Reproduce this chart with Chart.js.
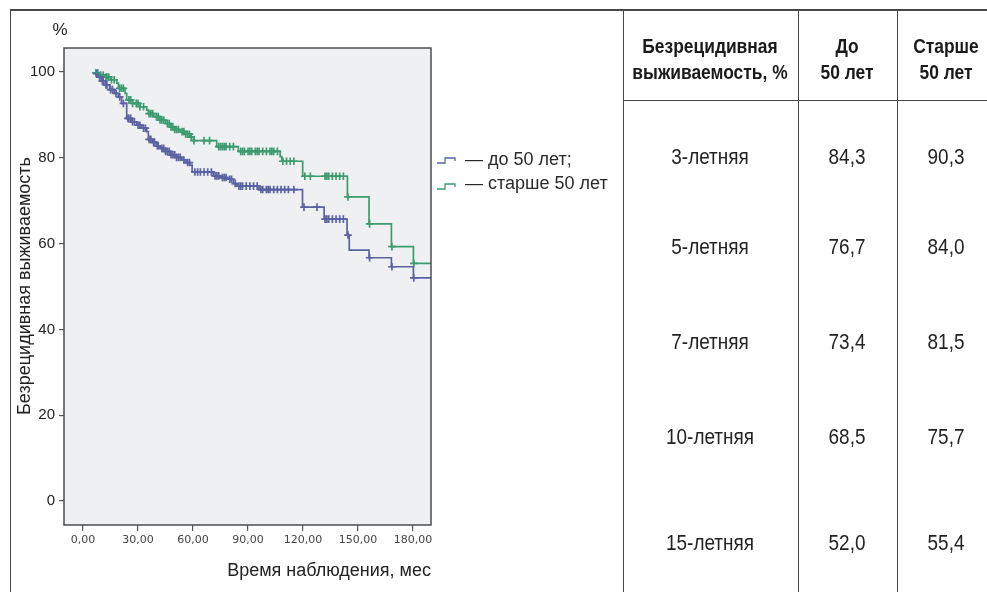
<!DOCTYPE html>
<html><head><meta charset="utf-8">
<script src="https://cdn.jsdelivr.net/npm/chart.js@4/dist/chart.umd.min.js"></script>
<style>
html,body{margin:0;padding:0;background:#fff;}
body{width:987px;height:592px;position:relative;overflow:hidden;font-family:"Liberation Sans",Arial,sans-serif;color:#222;}
#c{position:absolute;left:0;top:0;}
.ln{position:absolute;background:#474747;}
.t{position:absolute;white-space:nowrap;transform:translate(-50%,-50%);line-height:1;}
.nar{font-family:"Liberation Sans",Arial,sans-serif;color:#222;}
.hd{font-weight:bold;font-size:20px;text-align:center;line-height:26px;color:#1a1a1a;transform:translate(-50%,-50%) scaleX(0.87);}
.bd{font-size:22px;transform:translate(-50%,-50%) scaleX(0.86);}
.lg{position:absolute;font-size:18px;color:#2a2a2a;white-space:nowrap;line-height:1;}
</style></head>
<body>
<canvas id="c" width="987" height="592"></canvas>

<!-- frame lines -->
<div class="ln" style="left:10px;top:9px;width:977px;height:1.5px"></div>
<div class="ln" style="left:9.5px;top:9px;width:1.5px;height:583px"></div>
<div class="ln" style="left:622.5px;top:9px;width:1.5px;height:583px"></div>
<div class="ln" style="left:797.5px;top:9px;width:1.5px;height:583px"></div>
<div class="ln" style="left:896.5px;top:9px;width:1.5px;height:583px"></div>
<div class="ln" style="left:623px;top:99.5px;width:364px;height:1.5px"></div>

<!-- chart texts -->
<div class="t" style="left:60px;top:29px;font-size:17px;">%</div>
<div class="t" style="left:24px;top:286px;font-size:18px;transform:translate(-50%,-50%) rotate(-90deg);">Безрецидивная выживаемость</div>
<div class="t" style="left:431px;top:570px;font-size:18px;transform:translate(-100%,-50%);">Время наблюдения, мес</div>

<!-- legend -->
<svg style="position:absolute;left:435px;top:152px" width="28" height="40">
  <path d="M2 11 H10 V6 H20 V9" fill="none" stroke="#5a62a2" stroke-width="1.3"/>
  <path d="M2 37 H10 V32 H20 V35" fill="none" stroke="#3d9b70" stroke-width="1.3"/>
</svg>
<div class="lg" style="left:465px;top:150px;">— до 50 лет;</div>
<div class="lg" style="left:465px;top:174px;">— старше 50 лет</div>

<!-- table -->
<div class="t nar hd" style="left:710px;top:59px;">Безрецидивная<br>выживаемость, %</div>
<div class="t nar hd" style="left:847px;top:59px;">До<br>50 лет</div>
<div class="t nar hd" style="left:946px;top:59px;">Старше<br>50 лет</div>
<div id="tbody"></div>

<script>
// ---- data ----
const xTickValues = [0, 30, 60, 90, 120, 150, 180];
const yTickValues = [0, 20, 40, 60, 80, 100];

// Kaplan–Meier step points: time (months) and survival (%) — "до 50 лет"
const youngTimes = [6.2, 8, 10, 12, 14.5, 17, 19.3, 21, 23.8, 26.5, 29.3, 32, 34.7, 35.6, 38, 40, 42, 44.5, 47.5, 50.5, 53.8, 56, 58.4, 59.5, 71, 75, 78.4, 82, 84, 96, 119.7, 131.5, 144, 145.2, 156, 168.2, 180.2, 189.8];
const youngSurv  = [99.6, 98.8, 97.9, 97.0, 95.9, 95.0, 94.2, 92.7, 89.2, 88.4, 87.6, 86.9, 86.1, 84.3, 83.6, 82.8, 82.2, 81.5, 80.7, 80.1, 79.5, 78.9, 78.3, 76.7, 75.8, 75.4, 75.0, 74.0, 73.4, 72.6, 68.5, 65.7, 62.0, 58.5, 56.7, 54.6, 52.0, 52.0];
// "старше 50 лет"
const olderTimes = [6.2, 9, 12, 15, 18.4, 19.3, 22.9, 23.8, 27, 31, 34.7, 35.6, 38.5, 42, 45, 47.5, 50, 52.9, 55.5, 58.4, 60.2, 72.9, 84.7, 107.5, 108.4, 119.8, 144.2, 156, 168.2, 180.2, 189.8];
const olderSurv  = [99.8, 99.3, 98.8, 98.2, 97.4, 96.2, 95.0, 93.5, 92.7, 91.9, 91.1, 90.3, 89.6, 88.8, 88.0, 87.2, 86.6, 86.1, 85.5, 84.9, 84.0, 82.6, 81.5, 80.3, 79.2, 75.7, 70.9, 64.6, 59.3, 55.4, 55.4];

// censored observations (months)
const youngCensored = [7.5, 9, 10.5, 11, 12.5, 13, 15, 16, 18, 20, 22, 24.5, 25, 26, 27, 28, 30, 31, 33, 34, 36, 37, 38.5, 39, 40.5, 41, 43, 44, 45, 46, 47, 48, 49, 50, 51, 52, 53, 55, 57, 58, 61, 62.5, 64, 66, 68, 70, 72, 73, 74, 76, 77, 78, 80, 81, 83, 85, 86, 87, 89, 91, 93, 95, 97, 98, 100, 101, 102, 104, 106, 108, 110, 112, 115, 120.5, 127.6, 132, 133, 134, 136, 138, 140, 142, 144.5, 156.3, 168.5, 180.4];
const olderCensored = [7, 8, 9.5, 11, 12.5, 13, 14, 15.5, 17, 20, 21, 22, 25, 26, 27, 29, 30, 31, 33, 36, 37, 38, 40, 41, 42, 43, 44, 46, 47, 48, 49, 50, 51, 52, 54, 55, 56, 57, 58, 59, 60.5, 66, 69, 74, 75, 76, 77, 78, 80, 82, 86, 87, 88, 90, 91, 92, 94, 95, 96, 98, 100, 102, 103, 104, 106, 109, 111, 113, 115, 121, 124, 132, 133, 134, 136, 138, 140, 142, 144.5, 156.3, 168.5, 180.4];

// table
const tableRows = ["3-летняя", "5-летняя", "7-летняя", "10-летняя", "15-летняя"];
const tableYoung = ["84,3", "76,7", "73,4", "68,5", "52,0"];
const tableOlder = ["90,3", "84,0", "81,5", "75,7", "55,4"];
const rowCenters = [157, 247, 342, 437, 543];

// ---- table ----
const tb = document.getElementById('tbody');
tableRows.forEach((r, i) => {
  [[710, r], [847, tableYoung[i]], [946, tableOlder[i]]].forEach(([x, txt]) => {
    const d = document.createElement('div');
    d.className = 't nar bd';
    d.style.left = x + 'px';
    d.style.top = rowCenters[i] + 'px';
    d.textContent = txt;
    tb.appendChild(d);
  });
});

// ---- chart ----
const BLUE = '#5a62a2', GREEN = '#3d9b70';
function steps(times, surv) { return times.map((t, i) => ({x: t, y: surv[i]})); }
function lookup(times, surv, t) {
  let v = surv[0];
  for (let i = 0; i < times.length; i++) { if (times[i] <= t) v = surv[i]; }
  return v;
}
function censors(c, times, surv) { return c.map(t => ({x: t, y: lookup(times, surv, t)})); }

const plotBox = {
  id: 'plotBox',
  beforeDraw(chart) {
    const {ctx, chartArea: a} = chart;
    ctx.save();
    ctx.fillStyle = '#eff0f2';
    ctx.fillRect(a.left, a.top, a.right - a.left, a.bottom - a.top);
    ctx.restore();
  },
  afterDraw(chart) {
    const {ctx, chartArea: a} = chart;
    ctx.save();
    ctx.strokeStyle = '#4d4d4d';
    ctx.lineWidth = 1.5;
    ctx.strokeRect(a.left, a.top, a.right - a.left, a.bottom - a.top);
    ctx.restore();
  }
};

new Chart(document.getElementById('c'), {
  type: 'line',
  data: {
    datasets: [
      {label: 'до 50 лет', data: steps(youngTimes, youngSurv), stepped: true, borderColor: BLUE, borderWidth: 1.7, pointRadius: 0, fill: false},
      {label: 'старше 50 лет', data: steps(olderTimes, olderSurv), stepped: true, borderColor: GREEN, borderWidth: 1.7, pointRadius: 0, fill: false},
      {label: 'c1', data: censors(youngCensored, youngTimes, youngSurv), showLine: false, pointStyle: 'cross', pointRadius: 3.8, pointBorderWidth: 1.7, borderColor: BLUE, backgroundColor: BLUE},
      {label: 'c2', data: censors(olderCensored, olderTimes, olderSurv), showLine: false, pointStyle: 'cross', pointRadius: 3.8, pointBorderWidth: 1.7, borderColor: GREEN, backgroundColor: GREEN}
    ]
  },
  options: {
    responsive: false,
    animation: false,
    events: [],
    layout: {padding: {left: 0, top: 48, right: 556, bottom: 0}},
    plugins: {legend: {display: false}, tooltip: {enabled: false}},
    scales: {
      x: {
        type: 'linear', min: -10.4, max: 189.8,
        afterBuildTicks: s => { s.ticks = xTickValues.map(v => ({value: v})); },
        afterFit: s => { s.height = 67; },
        ticks: {autoSkip: false, maxRotation: 0, padding: 3, color: '#444',
          font: {family: 'DejaVu Sans', size: 11},
          callback: v => v.toFixed(2).replace('.', ',')},
        grid: {drawOnChartArea: false, drawTicks: true, tickLength: 6, color: '#555', lineWidth: 1.2},
        border: {display: false}
      },
      y: {
        type: 'linear', min: -5.6, max: 105.6,
        afterBuildTicks: s => { s.ticks = yTickValues.map(v => ({value: v})); },
        afterFit: s => { s.width = 64; },
        ticks: {autoSkip: false, padding: 4, color: '#222',
          font: {family: 'Liberation Sans', size: 15},
          callback: v => String(v)},
        grid: {drawOnChartArea: false, drawTicks: true, tickLength: 5, color: '#555', lineWidth: 1.2},
        border: {display: false}
      }
    }
  },
  plugins: [plotBox]
});
</script>
</body></html>
